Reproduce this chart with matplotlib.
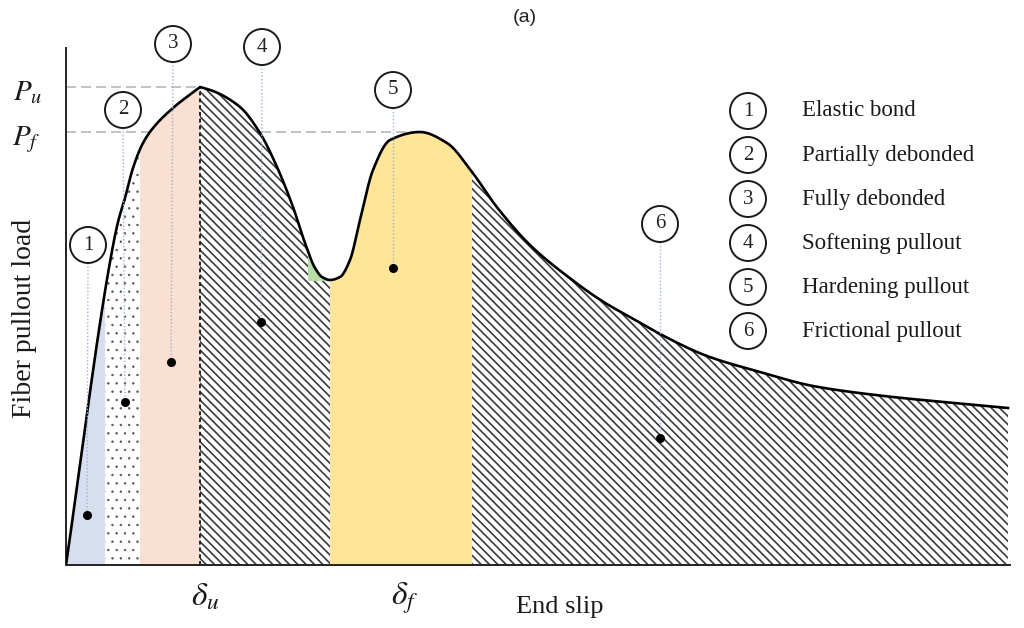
import numpy as np
import matplotlib
matplotlib.use("Agg")
import matplotlib.pyplot as plt
from matplotlib.patches import Circle

# ---- pullout curve (arbitrary units: slip, load) ----
rise_slip = [0, 44, 52, 59, 67, 77, 87, 107, 134]
rise_load = [0, 303, 343, 367, 397, 422, 437, 457, 478]
fall_slip = [134, 147, 174, 194, 211, 227, 239, 249, 256, 264, 274, 284, 294,
             307, 324, 354, 381, 406, 430, 465, 501, 536, 571, 594, 641, 694,
             747, 818, 888, 942]
fall_load = [478, 474, 458, 432, 398, 358, 322, 297, 288, 285, 288, 305, 345,
             395, 425, 433, 422, 393, 359, 319, 289, 264, 244, 231, 209, 193,
             179, 169, 162, 157]

# stage boundaries along the slip axis
stage_edges = [0, 39, 74, 134, 264, 406, 942]
stage_names = ["Elastic bond", "Partially debonded", "Fully debonded",
               "Softening pullout", "Hardening pullout", "Frictional pullout"]
stage_numbers = ["1", "2", "3", "4", "5", "6"]

# numbered callouts: circle centre and marker point for each stage
callout_x = [22, 57, 107, 196, 327, 594]
callout_y = [320, 455, 521, 518, 475, 341]
marker_x = [21, 59, 105, 195, 327, 594]
marker_y = [50, 163, 203, 243, 297, 127]

# transition zone between softening and hardening
transition_span = [242, 262]
transition_floor = 284

P_u = max(rise_load)
P_f = 433
P_f_slip = 354
delta_u_x = 139
delta_f_x = 339


def pchip(xk, yk, xq):
    xk = np.asarray(xk, float)
    yk = np.asarray(yk, float)
    h = np.diff(xk)
    d = np.diff(yk) / h
    m = np.zeros_like(yk)
    m[0], m[-1] = d[0], d[-1]
    for k in range(1, len(xk) - 1):
        if d[k - 1] * d[k] <= 0:
            m[k] = 0.0
        else:
            w1 = 2 * h[k] + h[k - 1]
            w2 = h[k] + 2 * h[k - 1]
            m[k] = (w1 + w2) / (w1 / d[k - 1] + w2 / d[k])
    xq = np.asarray(xq, float)
    i = np.clip(np.searchsorted(xk, xq, side="right") - 1, 0, len(xk) - 2)
    t = (xq - xk[i]) / h[i]
    h00 = 2 * t**3 - 3 * t**2 + 1
    h10 = t**3 - 2 * t**2 + t
    h01 = -2 * t**3 + 3 * t**2
    h11 = t**3 - t**2
    return h00 * yk[i] + h10 * h[i] * m[i] + h01 * yk[i + 1] + h11 * h[i] * m[i + 1]


def load_at(x):
    x = np.asarray(x, float)
    return np.where(x <= rise_slip[-1], pchip(rise_slip, rise_load, x),
                    pchip(fall_slip, fall_load, x))


plt.rcParams["hatch.linewidth"] = 1.2
plt.rcParams["mathtext.fontset"] = "stix"
serif = "Liberation Serif"

fig = plt.figure(figsize=(10.24, 6.28), dpi=100)
ax = fig.add_axes([66 / 1024, 63 / 628, 944 / 1024, 517 / 628])
ax.set_xlim(0, 944)
ax.set_ylim(0, 517)
for s in ("top", "right"):
    ax.spines[s].set_visible(False)
for s in ("left", "bottom"):
    ax.spines[s].set_color("#222222")
    ax.spines[s].set_linewidth(1.4)
ax.set_xticks([])
ax.set_yticks([])

# reference load levels
ax.plot([0, rise_slip[-1]], [P_u, P_u], color="#b8b8b8", lw=1.2,
        dashes=(6, 3), zorder=1)
ax.plot([0, P_f_slip], [P_f, P_f], color="#b8b8b8", lw=1.2,
        dashes=(6, 3), zorder=1)

# stage fills
styles = [
    dict(facecolor="#d6def0", edgecolor="none"),
    dict(facecolor="white", edgecolor="#555555", hatch=".."),
    dict(facecolor="#f9e0d3", edgecolor="none"),
    dict(facecolor="white", edgecolor="#3a3a3a", hatch="\\\\\\\\"),
    dict(facecolor="#fee597", edgecolor="none"),
    dict(facecolor="white", edgecolor="#3a3a3a", hatch="\\\\\\\\"),
]
for (a, b), st in zip(zip(stage_edges[:-1], stage_edges[1:]), styles):
    xs = np.linspace(a, b, 400)
    hlw = 0.5 if st.get("hatch") == ".." else 1.2
    with plt.rc_context({"hatch.linewidth": hlw}):
        ax.fill_between(xs, 0, load_at(xs), linewidth=0, zorder=2, **st)

gx = np.linspace(transition_span[0], transition_span[1], 100)
gy = load_at(gx)
ax.fill_between(gx, transition_floor, gy, where=gy > transition_floor,
                facecolor="#b8dca8", edgecolor="none", linewidth=0, zorder=3)

# boundary at peak load
ax.plot([rise_slip[-1], rise_slip[-1]], [0, P_u], color="#222222", lw=1.4,
        dashes=(2, 1.5), zorder=4)

# curve
xc = np.linspace(0, stage_edges[-1], 3000)
ax.plot(xc, load_at(xc), color="black", lw=1.9, zorder=5,
        solid_joinstyle="miter")

# callouts
r = 18
for num, cx, cy, mx, my in zip(stage_numbers, callout_x, callout_y,
                               marker_x, marker_y):
    ax.plot([cx, mx], [cy - r, my], color="#9fb2cc", lw=1.0,
            linestyle=(0, (1, 1.5)), zorder=6, clip_on=False)
    ax.add_patch(Circle((cx, cy), r, facecolor="white", edgecolor="#1a1a1a",
                        lw=1.4, zorder=7, clip_on=False))
    ax.text(cx, cy, num, ha="center", va="center", fontsize=15,
            family=serif, color="#222222", zorder=8, clip_on=False)
    ax.plot(mx, my, "o", color="black", ms=5.5, zorder=7)

# stage key
for k, (num, name) in enumerate(zip(stage_numbers, stage_names)):
    ky = 454 - k * 44
    ax.add_patch(Circle((682, ky), r, facecolor="white", edgecolor="#1a1a1a",
                        lw=1.4, zorder=7, clip_on=False))
    ax.text(682, ky, num, ha="center", va="center", fontsize=15,
            family=serif, color="#222222", zorder=8)
    ax.text(736, ky, name, ha="left", va="center", fontsize=16.5,
            family=serif, color="#1a1a1a", zorder=8)

# axis labels
ax.text(-38, 465, r"$P_u$", ha="center", va="baseline", fontsize=21,
        color="#1a1a1a", clip_on=False)
ax.text(-40, 420, r"$P_f$", ha="center", va="baseline", fontsize=21,
        color="#1a1a1a", clip_on=False)
ax.text(delta_u_x, -40, r"$\delta_u$", ha="center", va="baseline",
        fontsize=24, color="#1a1a1a", clip_on=False)
ax.text(delta_f_x, -40, r"$\delta_f$", ha="center", va="baseline",
        fontsize=24, color="#1a1a1a", clip_on=False)
ax.text(494, -42, "End slip", ha="center", va="center", fontsize=19,
        family=serif, color="#1a1a1a", clip_on=False)
ax.text(-41, 247, "Fiber pullout load", ha="center", va="center",
        rotation=90, fontsize=20, family=serif, color="#1a1a1a",
        clip_on=False)

fig.text(525 / 1024, 1 - 18 / 628, "(a)", ha="center", va="center",
         fontsize=14, family="Liberation Sans", color="#222222")

fig.savefig("out.png", dpi=100)
